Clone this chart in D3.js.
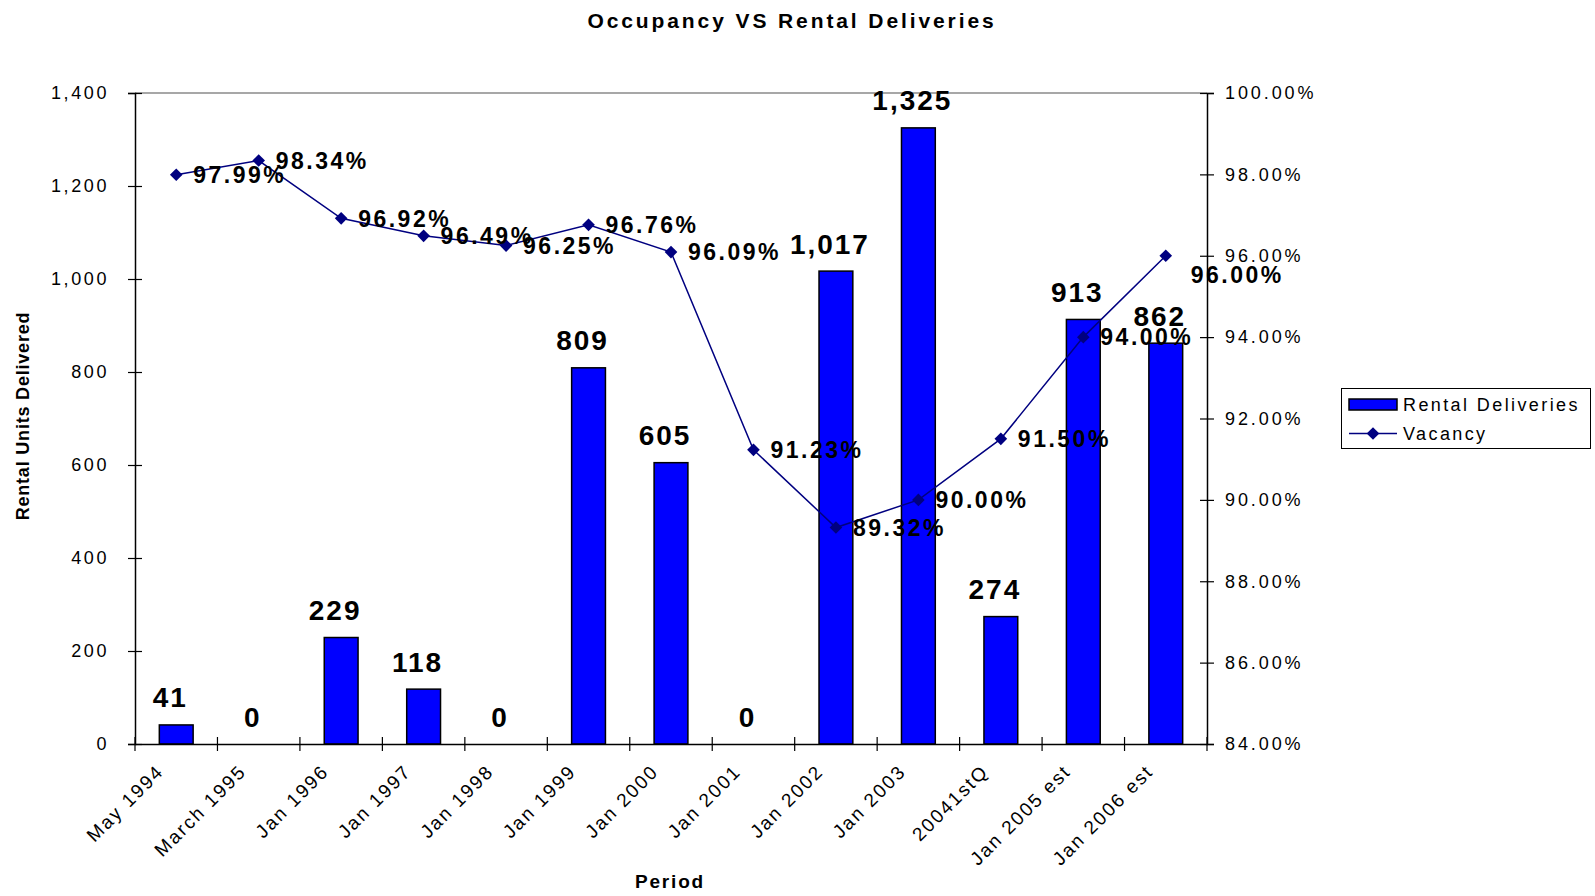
<!DOCTYPE html>
<html>
<head>
<meta charset="utf-8">
<script src="https://cdn.jsdelivr.net/npm/d3@7"></script>
<style>
  html, body { margin: 0; padding: 0; background: #fff; }
  svg { display: block; font-family: "Liberation Sans", Arial, sans-serif; }
</style>
</head>
<body>
<svg id="chart" width="1595" height="896"></svg>
<script>
const categories = ["May 1994", "March 1995", "Jan 1996", "Jan 1997", "Jan 1998", "Jan 1999",
  "Jan 2000", "Jan 2001", "Jan 2002", "Jan 2003", "20041stQ", "Jan 2005 est", "Jan 2006 est"];
const rentalDeliveries = [41, 0, 229, 118, 0, 809, 605, 0, 1017, 1325, 274, 913, 862];
const vacancy = [97.99, 98.34, 96.92, 96.49, 96.25, 96.76, 96.09, 91.23, 89.32, 90.00, 91.50, 94.00, 96.00];
const leftTicks = [0, 200, 400, 600, 800, 1000, 1200, 1400];
const rightTicks = [84, 86, 88, 90, 92, 94, 96, 98, 100];

const svg = d3.select("#chart");
const L = 135, R = 1207, T = 93, B = 744;

const x = d3.scaleBand().domain(categories).range([L, R]).padding(0);
const y = d3.scaleLinear().domain([0, 1400]).range([B, T]);
const y2 = d3.scaleLinear().domain([84, 100]).range([B, T]);

const fmtInt = d3.format(",");
const fmtPct = v => d3.format(".2f")(v) + "%";

// Title
svg.append("text").attr("x", 792).attr("y", 28).attr("text-anchor", "middle")
  .attr("font-size", 21).attr("font-weight", "bold").attr("letter-spacing", 2.9)
  .text("Occupancy VS Rental Deliveries");

// top plot border
svg.append("line").attr("x1", L).attr("x2", R).attr("y1", T).attr("y2", T)
  .attr("stroke", "#8a8a8a").attr("stroke-width", 1.5);

// Bars
const bw = x.bandwidth() * 0.41;
svg.append("g").selectAll("rect").data(rentalDeliveries).join("rect")
  .attr("x", (d, i) => x(categories[i]) + x.bandwidth() / 2 - bw / 2)
  .attr("y", d => y(d))
  .attr("width", bw)
  .attr("height", d => y(0) - y(d))
  .attr("fill", "#0000ff").attr("stroke", "#000").attr("stroke-width", 1.5);

// Left axis
const gl = svg.append("g").attr("transform", `translate(${L},0)`)
  .call(d3.axisLeft(y).tickValues(leftTicks).tickFormat(fmtInt).tickSize(7).tickPadding(19));
gl.select(".domain").attr("stroke", "#000").attr("stroke-width", 1.5);
gl.selectAll(".tick line").attr("x1", 7).attr("x2", -7).attr("stroke-width", 1.2);
gl.selectAll(".tick text").attr("font-size", 18).attr("letter-spacing", 2.6)
  .attr("font-family", '"Liberation Sans", Arial, sans-serif').attr("fill", "#000");

// Right axis
const gr = svg.append("g").attr("transform", `translate(${R},0)`)
  .call(d3.axisRight(y2).tickValues(rightTicks).tickFormat(fmtPct).tickSize(7).tickPadding(11));
gr.select(".domain").attr("stroke", "#000").attr("stroke-width", 1.5);
gr.selectAll(".tick line").attr("x1", -7).attr("x2", 7).attr("stroke-width", 1.2);
gr.selectAll(".tick text").attr("font-size", 18).attr("letter-spacing", 2.9)
  .attr("font-family", '"Liberation Sans", Arial, sans-serif').attr("fill", "#000");

// Bottom axis
const gb = svg.append("g").attr("transform", `translate(0,${B})`)
  .call(d3.axisBottom(x).tickSize(0).tickFormat(""));
gb.select(".domain").attr("stroke", "#000").attr("stroke-width", 1.5);
const boundaries = d3.range(categories.length + 1).map(i => L + i * x.step());
gb.selectAll(".bnd").data(boundaries).join("line").attr("class", "bnd")
  .attr("x1", d => d).attr("x2", d => d).attr("y1", -7).attr("y2", 7)
  .attr("stroke", "#000").attr("stroke-width", 1.2);

// x labels
svg.append("g").selectAll("text").data(categories).join("text")
  .attr("transform", d => `translate(${x(d) + x.bandwidth() / 2 - 16},${768}) rotate(-45)`)
  .attr("text-anchor", "end").attr("dy", "0.35em")
  .attr("font-size", 19).attr("letter-spacing", 2)
  .text(d => d);

// Bar value labels
svg.append("g").selectAll("text").data(rentalDeliveries).join("text")
  .attr("x", (d, i) => x(categories[i]) + x.bandwidth() / 2 - 6)
  .attr("y", d => y(d) - 17.5)
  .attr("text-anchor", "middle")
  .attr("font-size", 28).attr("font-weight", "bold").attr("letter-spacing", 2)
  .text(d => fmtInt(d));

// Vacancy line
const cx = i => x(categories[i]) + x.bandwidth() / 2;
const line = d3.line().x((d, i) => cx(i)).y(d => y2(d));
svg.append("path").datum(vacancy).attr("d", line)
  .attr("fill", "none").attr("stroke", "#000080").attr("stroke-width", 1.5);
const diamond = d3.symbol().type(d3.symbolSquare).size(80);
svg.append("g").selectAll("path").data(vacancy).join("path")
  .attr("d", diamond)
  .attr("transform", (d, i) => `translate(${cx(i)},${y2(d)}) rotate(45)`)
  .attr("fill", "#000080");

// Vacancy labels
const lastShift = { dx: 8, dy: 19 };
svg.append("g").selectAll("text").data(vacancy).join("text")
  .attr("x", (d, i) => cx(i) + 17 + (i === vacancy.length - 1 ? lastShift.dx : 0))
  .attr("y", (d, i) => y2(d) + (i === vacancy.length - 1 ? lastShift.dy : 0))
  .attr("dy", "0.36em")
  .attr("font-size", 23).attr("font-weight", "bold").attr("letter-spacing", 2.5)
  .text(d => fmtPct(d));

// Axis titles
svg.append("text").attr("transform", `translate(29,416) rotate(-90)`)
  .attr("text-anchor", "middle").attr("font-size", 18).attr("font-weight", "bold")
  .attr("letter-spacing", 0.8).text("Rental Units Delivered");
svg.append("text").attr("x", 670).attr("y", 888).attr("text-anchor", "middle")
  .attr("font-size", 19).attr("font-weight", "bold").attr("letter-spacing", 1.8)
  .text("Period");

// Legend
const lg = svg.append("g");
lg.append("rect").attr("x", 1341.5).attr("y", 388.5).attr("width", 249).attr("height", 60)
  .attr("fill", "#fff").attr("stroke", "#000").attr("stroke-width", 1);
lg.append("rect").attr("x", 1349).attr("y", 399).attr("width", 48).attr("height", 11)
  .attr("fill", "#0000ff").attr("stroke", "#000").attr("stroke-width", 1.5);
lg.append("text").attr("x", 1403).attr("y", 404.5).attr("dy", "0.35em")
  .attr("font-size", 18).attr("letter-spacing", 2.4).text("Rental Deliveries");
lg.append("line").attr("x1", 1349).attr("x2", 1397).attr("y1", 433.5).attr("y2", 433.5)
  .attr("stroke", "#000080").attr("stroke-width", 1.5);
lg.append("path").attr("d", diamond).attr("transform", "translate(1373,433.5) rotate(45)")
  .attr("fill", "#000080");
lg.append("text").attr("x", 1403).attr("y", 433.5).attr("dy", "0.35em")
  .attr("font-size", 18).attr("letter-spacing", 2.4).text("Vacancy");
</script>
</body>
</html>
